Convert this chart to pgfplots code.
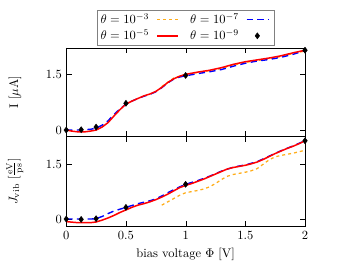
\documentclass[border=0pt]{standalone}
\usepackage{pgfplots}
\pgfplotsset{compat=1.18}
\definecolor{myorange}{rgb}{1,0.68,0.1}
\begin{document}
\begin{tikzpicture}
\pgfplotsset{
  myax/.style={
    width=191pt, height=70.7pt, scale only axis,
    xmin=0, xmax=2,
    xtick={0,0.5,1,1.5,2},
    ytick={0,1.5},
    tick align=inside,
    tick style={black},
    every axis y label/.style={at={(axis description cs:-0.215,0.5)}, rotate=90, anchor=center},
  },
  orangestyle/.style={myorange, dash pattern=on 2.4pt off 2.4pt, line width=1pt},
  bluestyle/.style={blue, dash pattern=on 5pt off 3.5pt, line width=1.1pt},
  redstyle/.style={red, line width=1.2pt},
  markstyle/.style={black, only marks, mark=diamond*, mark size=2.4pt},
}
\begin{axis}[myax, name=top,
  ymin=-0.17, ymax=2.21,
  xticklabels={},
  ylabel={I [$\mu$A]},
  legend columns=4,
  legend style={at={(0.5,1.03)}, anchor=south, draw=gray, inner xsep=1pt, inner ysep=1pt,
    nodes={inner sep=1.6pt},
    /tikz/column sep=0pt,
    /tikz/every odd column/.style={column sep=0pt},
    /tikz/every even column/.style={column sep=4pt}},
  legend cell align=left,
]
\addlegendimage{empty legend}
\addlegendentry{$\theta=10^{-3}$}
\addplot[orangestyle] coordinates {
(0.8,1.17)(0.9,1.40)(1.0,1.50)(1.1,1.55)(1.2,1.60)(1.3,1.66)(1.4,1.75)(1.5,1.82)(1.6,1.87)(1.7,1.92)(1.8,1.98)(1.9,2.06)(2.0,2.13)};
\addlegendentry{\mbox{}}
\addlegendimage{empty legend}
\addlegendentry{$\theta=10^{-7}$}
\addplot[bluestyle] coordinates {
(0,0)(0.1,0)(0.2,0.02)(0.25,0.05)(0.3,0.13)(0.35,0.25)(0.4,0.42)(0.45,0.57)(0.5,0.70)(0.55,0.78)(0.6,0.85)(0.65,0.91)(0.7,0.96)(0.75,1.03)(0.8,1.14)(0.85,1.27)(0.9,1.37)(0.95,1.43)(1.0,1.46)(1.1,1.52)(1.2,1.57)(1.3,1.63)(1.4,1.72)(1.5,1.80)(1.6,1.86)(1.7,1.90)(1.8,1.96)(1.9,2.04)(2.0,2.14)};
\addlegendentry{\mbox{}}
\addlegendimage{empty legend}
\addlegendentry{$\theta=10^{-5}$}
\addplot[redstyle] coordinates {
(0,0)(0.05,-0.03)(0.1,-0.05)(0.15,-0.05)(0.2,-0.03)(0.25,0.0)(0.3,0.08)(0.35,0.2)(0.4,0.38)(0.45,0.55)(0.5,0.70)(0.55,0.78)(0.6,0.85)(0.65,0.92)(0.7,0.97)(0.75,1.04)(0.8,1.15)(0.85,1.28)(0.9,1.38)(0.95,1.45)(1.0,1.50)(1.1,1.56)(1.2,1.61)(1.3,1.68)(1.4,1.77)(1.5,1.84)(1.6,1.89)(1.7,1.94)(1.8,2.00)(1.9,2.08)(2.0,2.15)};
\addlegendentry{\mbox{}}
\addlegendimage{empty legend}
\addlegendentry{$\theta=10^{-9}$}
\addplot[markstyle] coordinates {
(0,0)(0.125,0.01)(0.25,0.08)(0.5,0.72)(1,1.47)(2,2.15)};
\addlegendentry{\mbox{}}
\end{axis}
\begin{axis}[myax, name=bot, at={(top.south west)}, anchor=north west,
  height=72pt,
  ymin=-0.2, ymax=2.26,
  ylabel={$J_{\mathrm{vib}}$ $[\frac{\mathrm{eV}}{\mathrm{ps}}]$},
  xlabel={bias voltage $\Phi$ [V]},
  xticklabels={0,0.5,1,1.5,2},
]
\addplot[orangestyle] coordinates {
(0.8,0.38)(0.85,0.47)(0.9,0.56)(0.95,0.65)(1.0,0.72)(1.05,0.75)(1.1,0.78)(1.15,0.82)(1.2,0.88)(1.25,0.97)(1.3,1.08)(1.35,1.17)(1.4,1.22)(1.45,1.25)(1.5,1.28)(1.55,1.32)(1.6,1.38)(1.65,1.50)(1.7,1.62)(1.75,1.70)(1.8,1.74)(1.85,1.77)(1.9,1.80)(1.95,1.84)(2.0,1.88)};
\addplot[bluestyle] coordinates {
(0,0)(0.1,0)(0.2,0)(0.25,0.01)(0.3,0.07)(0.35,0.15)(0.4,0.22)(0.45,0.27)(0.5,0.32)(0.55,0.37)(0.6,0.42)(0.65,0.46)(0.7,0.50)(0.75,0.55)(0.8,0.63)(0.85,0.72)(0.9,0.80)(0.95,0.88)(1.0,0.95)(1.1,1.05)(1.2,1.17)(1.3,1.31)(1.4,1.42)(1.5,1.48)(1.6,1.57)(1.7,1.72)(1.8,1.87)(1.9,2.00)(2.0,2.14)};
\addplot[redstyle] coordinates {
(0,-0.07)(0.1,-0.1)(0.2,-0.1)(0.25,-0.08)(0.3,-0.03)(0.35,0.03)(0.4,0.10)(0.45,0.18)(0.5,0.25)(0.55,0.32)(0.6,0.38)(0.65,0.42)(0.7,0.47)(0.75,0.53)(0.8,0.60)(0.85,0.68)(0.9,0.77)(0.95,0.86)(1.0,0.92)(1.05,0.97)(1.1,1.03)(1.15,1.09)(1.2,1.16)(1.25,1.23)(1.3,1.30)(1.35,1.37)(1.4,1.41)(1.45,1.44)(1.5,1.47)(1.55,1.51)(1.6,1.56)(1.65,1.63)(1.7,1.71)(1.75,1.79)(1.8,1.86)(1.85,1.93)(1.9,1.99)(1.95,2.06)(2.0,2.14)};
\addplot[markstyle] coordinates {
(0,0)(0.125,-0.01)(0.25,0.01)(0.5,0.32)(1,0.95)(2,2.14)};
\end{axis}
\pgfresetboundingbox
\path ([xshift=-53pt,yshift=38.4pt]top.north west) rectangle ([xshift=28pt,yshift=-40.2pt]bot.south east);
\end{tikzpicture}
\end{document}
